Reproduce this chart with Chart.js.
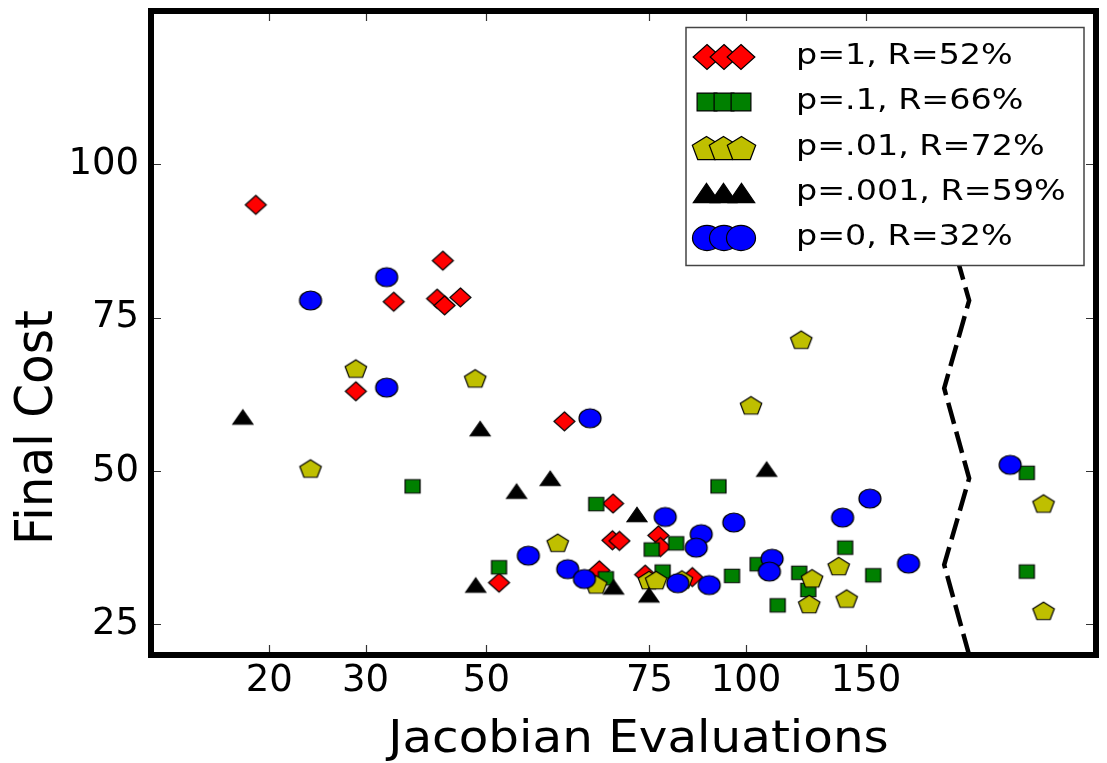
<!DOCTYPE html>
<html>
<head>
<meta charset="utf-8">
<script src="https://cdn.jsdelivr.net/npm/chart.js@4.4.1/dist/chart.umd.min.js"></script>
<style>
  html, body { margin: 0; padding: 0; background: #fff; }
  canvas { display: block; }
</style>
</head>
<body>
<canvas id="costChart" width="1107" height="763"></canvas>
<script>
// x axis: Jacobian evaluations (tick labels and where they sit along the axis)
const evalTicks = [20, 30, 50, 75, 100, 150];
const evalTickSpots = [0.1251, 0.2270, 0.3549, 0.5275, 0.6297, 0.7566];
const costTicks = [25, 50, 75, 100];

const seriesLabels = ['p=1, R=52%', 'p=.1, R=66%', 'p=.01, R=72%', 'p=.001, R=59%', 'p=0, R=32%'];

// p = 1
const redEvals = [18.9, 41.6, 33.8, 40.6, 41.9, 44.8, 28.8, 60.7, 68.5, 68.4, 69.6, 77.0, 77.5, 51.6, 66.2, 74.2, 85.2];
const redCost  = [93.4, 84.3, 77.6, 78.1, 77.0, 78.3, 63.0, 58.1, 44.7, 38.7, 38.6, 39.5, 37.6, 31.8, 33.8, 33.1, 32.7];
// p = .1
const greenEvals = [36.6, 92.1, 65.7, 81.2, 75.5, 139.8, 51.6, 67.3, 78.0, 95.9, 104.0, 119.7, 123.4, 111.3, 153.7, 258.4, 258.4];
const greenCost  = [47.5, 47.5, 44.6, 38.2, 37.2, 37.5, 34.3, 32.5, 33.6, 32.9, 34.8, 33.4, 30.6, 28.1, 33.0, 49.7, 33.6];
// p = .01
const yellowEvals = [23.8, 28.8, 47.7, 59.7, 65.7, 74.9, 76.5, 82.6, 101.7, 120.5, 125.0, 123.8, 136.8, 140.5, 273.4, 273.4];
const yellowCost  = [50.4, 66.7, 65.1, 38.3, 31.5, 32.2, 32.2, 32.3, 60.7, 71.4, 32.5, 28.3, 34.5, 29.2, 44.7, 27.2];
// p = .001
const blackEvals = [17.9, 48.7, 53.9, 58.6, 72.7, 107.2, 47.8, 68.6, 74.9];
const blackCost  = [58.8, 56.9, 46.7, 48.8, 42.9, 50.3, 31.4, 31.1, 29.8];
// p = 0
const blueEvals = [23.8, 32.8, 32.8, 64.7, 78.6, 96.4, 152.0, 138.6, 87.5, 86.2, 55.5, 173.2, 61.2, 63.8, 81.6, 89.6, 109.2, 108.2, 244.2];
const blueCost  = [77.8, 81.6, 63.6, 58.6, 42.5, 41.6, 45.5, 42.4, 39.7, 37.5, 36.2, 34.9, 34.0, 32.4, 31.7, 31.4, 35.7, 33.6, 51.0];

// dashed break line between converged and non-converged runs
const breakEvals = [212.6, 195.4, 212.6, 195.4, 212.6, 195.4, 212.6, 195.4];
const breakCost  = [20, 34.7, 48.8, 63.5, 77.8, 92.1, 106.4, 120.7];

// piecewise-log axis through the labelled ticks
function warp(v) {
    const L = Math.log10(v);
    let i = 0;
    while (i < evalTicks.length - 2 && L > Math.log10(evalTicks[i + 1])) i++;
    const l0 = Math.log10(evalTicks[i]), l1 = Math.log10(evalTicks[i + 1]);
    return evalTickSpots[i] + (L - l0) / (l1 - l0) * (evalTickSpots[i + 1] - evalTickSpots[i]);
}
function unwarp(d) {
    let i = 0;
    while (i < evalTicks.length - 2 && d > evalTickSpots[i + 1]) i++;
    const l0 = Math.log10(evalTicks[i]), l1 = Math.log10(evalTicks[i + 1]);
    return Math.pow(10, l0 + (d - evalTickSpots[i]) / (evalTickSpots[i + 1] - evalTickSpots[i]) * (l1 - l0));
}

class WarpScale extends Chart.LinearScale {
    static id = 'warp';
    static defaults = {};
    getPixelForValue(value) {
        return this.getPixelForDecimal(warp(value));
    }
    getValueForPixel(pixel) {
        return unwarp(this.getDecimalForPixel(pixel));
    }
}
Chart.register(WarpScale);

// marker images (matplotlib style: filled, thin black edge)
function makeMarker(shape, color, w, h) {
    const pad = 2;
    const c = document.createElement('canvas');
    c.width = Math.ceil(w + pad * 2);
    c.height = Math.ceil(h + pad * 2);
    const g = c.getContext('2d');
    g.translate(c.width / 2, c.height / 2);
    const a = w / 2, b = h / 2;
    g.beginPath();
    if (shape === 'diamond') {
        g.moveTo(0, -b); g.lineTo(a, 0); g.lineTo(0, b); g.lineTo(-a, 0);
    } else if (shape === 'square') {
        g.rect(-a, -b, w, h);
    } else if (shape === 'pentagon') {
        const rx = a / Math.sin(72 * Math.PI / 180);
        const ry = h / (1 + Math.cos(36 * Math.PI / 180));
        const shift = (ry - ry * Math.cos(36 * Math.PI / 180)) / 2;
        for (let k = 0; k < 5; k++) {
            const ang = (-90 + 72 * k) * Math.PI / 180;
            const px = Math.cos(ang) * rx, py = Math.sin(ang) * ry + shift;
            k === 0 ? g.moveTo(px, py) : g.lineTo(px, py);
        }
    } else if (shape === 'triangle') {
        g.moveTo(0, -b); g.lineTo(a, b); g.lineTo(-a, b);
    } else {
        g.ellipse(0, 0, a, b, 0, 0, Math.PI * 2);
    }
    g.closePath();
    g.fillStyle = color;
    g.fill();
    g.lineWidth = 1.2;
    g.strokeStyle = '#000';
    g.stroke();
    return c;
}

const seriesStyles = [
    { shape: 'diamond', color: '#ff0000', w: 21, h: 19 },
    { shape: 'square', color: '#008000', w: 15, h: 13.5 },
    { shape: 'pentagon', color: '#bfbf00', w: 21.5, h: 17.5 },
    { shape: 'triangle', color: '#000000', w: 20, h: 14.5 },
    { shape: 'circle', color: '#0000ff', w: 22, h: 19 }
];
const plotMarkers = seriesStyles.map(s => makeMarker(s.shape, s.color, s.w, s.h));
const legendMarkers = seriesStyles.map(s => makeMarker(s.shape, s.color, s.w * 1.32, s.h * 1.32));

function pts(xs, ys) {
    return xs.map((x, i) => ({ x: x, y: ys[i] }));
}

const seriesData = [
    pts(redEvals, redCost),
    pts(greenEvals, greenCost),
    pts(yellowEvals, yellowCost),
    pts(blackEvals, blackCost),
    pts(blueEvals, blueCost)
];

const datasets = seriesData.map((data, i) => ({
    label: seriesLabels[i],
    data: data,
    pointStyle: plotMarkers[i],
    pointRadius: 10,
    order: 5 - i
}));
datasets.push({
    label: 'break',
    data: pts(breakEvals, breakCost),
    showLine: true,
    pointRadius: 0,
    borderColor: '#000',
    borderWidth: 4.5,
    borderDash: [22, 8],
    fill: false,
    order: 10
});

// frame with inward ticks on all four sides
const framePlugin = {
    id: 'frame',
    afterDatasetsDraw(chart) {
        const { ctx, chartArea: a, scales: { x, y } } = chart;
        ctx.save();
        ctx.strokeStyle = '#333';
        ctx.lineWidth = 1.2;
        ctx.beginPath();
        evalTicks.forEach(v => {
            const px = Math.round(x.getPixelForValue(v)) + 0.5;
            ctx.moveTo(px, a.bottom); ctx.lineTo(px, a.bottom - 10);
            ctx.moveTo(px, a.top); ctx.lineTo(px, a.top + 10);
        });
        costTicks.forEach(v => {
            const py = Math.round(y.getPixelForValue(v)) + 0.5;
            ctx.moveTo(a.left, py); ctx.lineTo(a.left + 10, py);
            ctx.moveTo(a.right, py); ctx.lineTo(a.right - 10, py);
        });
        ctx.stroke();
        ctx.lineWidth = 6;
        ctx.strokeStyle = '#000';
        ctx.strokeRect(a.left, a.top, a.right - a.left, a.bottom - a.top);
        ctx.restore();
    }
};

// axis titles and the boxed legend with three markers per entry
const overlayPlugin = {
    id: 'overlay',
    afterDraw(chart) {
        const { ctx, chartArea: a } = chart;
        ctx.save();
        ctx.fillStyle = '#000';

        ctx.font = '44px "DejaVu Sans"';
        ctx.textAlign = 'center';
        ctx.textBaseline = 'alphabetic';
        ctx.save();
        ctx.translate((a.left + a.right) / 2 + 15, 752);
        ctx.scale(1.1, 1);
        ctx.fillText('Jacobian Evaluations', 0, 0);
        ctx.restore();

        ctx.font = '48.5px "DejaVu Sans"';
        ctx.save();
        ctx.translate(51.5, 427.5);
        ctx.rotate(-Math.PI / 2);
        ctx.scale(1, 1.08);
        ctx.fillText('Final Cost', 0, 0);
        ctx.restore();

        const box = { l: 686, t: 27.5, r: 1084, b: 265.5 };
        ctx.fillStyle = '#fff';
        ctx.fillRect(box.l, box.t, box.r - box.l, box.b - box.t);
        ctx.strokeStyle = '#444';
        ctx.lineWidth = 1.5;
        ctx.strokeRect(box.l, box.t, box.r - box.l, box.b - box.t);

        ctx.fillStyle = '#000';
        ctx.font = '29px "DejaVu Sans"';
        ctx.textAlign = 'left';
        seriesLabels.forEach((label, i) => {
            const cy = 56.7 + i * 45.4;
            const m = legendMarkers[i];
            [706.5, 723.5, 741].forEach(cx => {
                ctx.drawImage(m, Math.round(cx - m.width / 2), Math.round(cy - m.height / 2));
            });
            ctx.save();
            ctx.translate(796, cy + 7);
            ctx.scale(1.15, 1);
            ctx.fillText(label, 0, 0);
            ctx.restore();
        });
        ctx.restore();
    }
};

const ctx = document.getElementById('costChart').getContext('2d');
const costChart = new Chart(ctx, {
    type: 'scatter',
    data: { datasets: datasets },
    options: {
        responsive: false,
        animation: false,
        devicePixelRatio: 1,
        layout: { padding: { top: 10, right: 10, left: 0, bottom: 0 } },
        plugins: {
            legend: { display: false },
            tooltip: { enabled: false }
        },
        scales: {
            x: {
                type: 'warp',
                min: 12,
                max: 330,
                grid: { display: false, drawTicks: false },
                border: { display: false },
                afterBuildTicks: axis => { axis.ticks = evalTicks.map(v => ({ value: v })); },
                afterFit: axis => {
                    axis.height = 108;
                    axis.paddingLeft = 0;
                    axis.paddingRight = 0;
                },
                ticks: {
                    autoSkip: false,
                    maxRotation: 0,
                    padding: 4.5,
                    color: '#000',
                    font: { family: 'DejaVu Sans', size: 37 },
                    callback: v => String(v)
                }
            },
            y: {
                type: 'linear',
                min: 20,
                max: 125,
                grid: { display: false, drawTicks: false },
                border: { display: false },
                afterBuildTicks: axis => { axis.ticks = costTicks.map(v => ({ value: v })); },
                afterFit: axis => {
                    axis.width = 151;
                    axis.paddingTop = 0;
                    axis.paddingBottom = 0;
                },
                ticks: {
                    padding: 12,
                    color: '#000',
                    font: { family: 'DejaVu Sans', size: 37 },
                    callback: v => String(v)
                }
            }
        }
    },
    plugins: [framePlugin, overlayPlugin]
});
</script>
</body>
</html>
